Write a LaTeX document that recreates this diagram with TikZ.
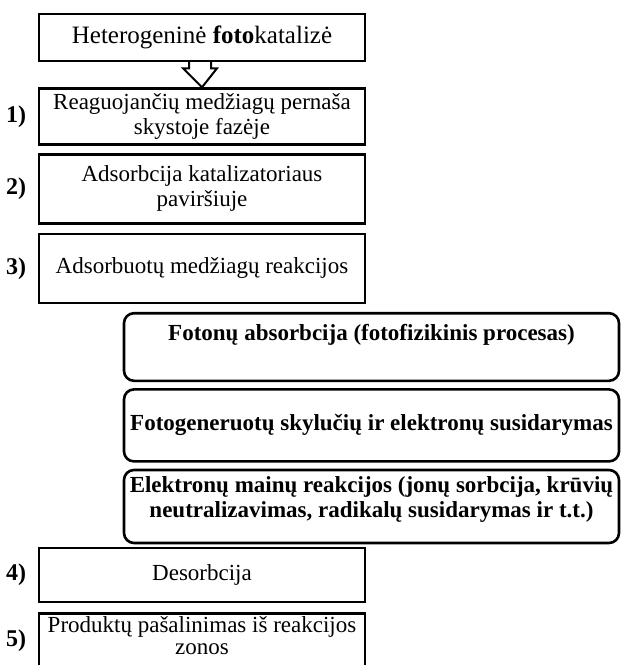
\documentclass[tikz,border=0pt]{standalone}
\usepackage{fontspec}
\setmainfont{Liberation Serif}
\usetikzlibrary{positioning, calc}

\begin{document}
\begin{tikzpicture}[
    x=1pt, y=-1pt,
    node distance=7pt,
    stage/.style={rectangle, draw=black, line width=2.6pt, align=center, minimum width=326pt, inner sep=2pt},
    substage/.style={rectangle, rounded corners=10pt, draw=black, line width=2.6pt, align=center, minimum width=495pt, inner sep=2pt, font=\fontsize{23}{25}\selectfont\bfseries},
    num/.style={font=\fontsize{24}{25}\selectfont\bfseries},
    every node/.style={font=\fontsize{23}{25}\selectfont}
]
\useasboundingbox (0,0) rectangle (621,665);

% main stages
\node[stage, minimum height=47pt, font=\fontsize{25}{27}\selectfont] (top) at (202,37.5) {Heterogeninė \textbf{foto}katalizė};
\node[stage, minimum height=56pt, below=25pt of top] (b1) {Reaguojančių medžiagų pernaša\\ skystoje fazėje};
\node[stage, minimum height=69pt, below=7pt of b1] (b2) {Adsorbcija katalizatoriaus\\ paviršiuje};
\node[stage, minimum height=69pt, below=8pt of b2] (b3) {Adsorbuotų medžiagų reakcijos};

% photo steps
\node[substage, inner ysep=0pt, text height=26.8pt, text depth=40.8pt] (ph1) at (371.5,347) {Fotonų absorbcija (fotofizikinis procesas)};
\node[substage, minimum height=72pt, below=6pt of ph1] (ph2) {Fotogeneruotų skylučių ir elektronų susidarymas};
\node[substage, inner ysep=0pt, text height=47.5pt, text depth=25.5pt, below=6pt of ph2] (ph3) {Elektronų mainų reakcijos (jonų sorbcija, krūvių\\ neutralizavimas, radikalų susidarymas ir t.t.)};

\node[stage, minimum height=54pt] (b4) at (202,575) {Desorbcija};
\node[stage, inner ysep=0pt, text height=41pt, text depth=14pt, below=9pt of b4, font=\fontsize{23}{22}\selectfont] (b5) {Produktų pašalinimas iš reakcijos\\ zonos};

% numbers
\node[num, left=8pt of b1] (n1) {1)};
\node[num, left=8pt of b2] (n2) {2)};
\node[num, left=8pt of b3] (n3) {3)};
\node[num, left=8pt of b4] (n4) {4)};
\node[num, left=8pt of b5] (n5) {5)};

% block arrow
\draw[line width=2pt, line join=miter] ($(top.south)+(-13,-1)$) -- ++(0,7) -- ++(-6,0) -- (b1.north) -- ($(top.south)+(15,6)$) -- ++(-6,0) -- ++(0,-7);
\end{tikzpicture}
\end{document}
